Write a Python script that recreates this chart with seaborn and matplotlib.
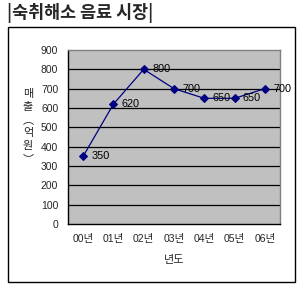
import matplotlib
matplotlib.use("Agg")
import matplotlib.pyplot as plt
import seaborn as sns
import pandas as pd
from matplotlib.patches import Rectangle

years = ["00년", "01년", "02년", "03년", "04년", "05년", "06년"]
sales = [350, 620, 800, 700, 650, 650, 700]
yticks = [0, 100, 200, 300, 400, 500, 600, 700, 800, 900]
ylabel_chars = ["매", "출", "︵", "억", "원", "︶"]

sns.set_style("white")
FAM = ["Liberation Sans", "Noto Sans CJK KR", "DejaVu Sans"]
plt.rcParams["font.family"] = FAM

fig = plt.figure(figsize=(3.03, 2.89), dpi=100)
fig.patch.set_facecolor("white")

# outer chart frame
fig.patches.append(Rectangle((8/303, 1-282/289), 287/303, 255/289, transform=fig.transFigure,
                             fill=False, edgecolor="black", linewidth=1.0, zorder=0))

ax = fig.add_axes([68/303, 1-224/289, 212/303, 174/289])
ax.set_facecolor("#c0c0c0")

df = pd.DataFrame({"year": years, "sales": sales})
df["pos"] = range(len(years))
sns.lineplot(data=df, x="pos", y="sales", ax=ax, color="#000080", marker="D",
             markersize=4, markeredgecolor="#000080", linewidth=0.9, zorder=3)

for i, v in enumerate(sales):
    ax.annotate(str(v), (i, v), xytext=(6, 0), textcoords="offset points",
                va="center", ha="left", fontsize=7.8, color="black", zorder=4)

ax.set_xlim(-0.5, len(years) - 0.5)
ax.set_ylim(0, 900)
ax.set_yticks(yticks)
ax.set_yticklabels([str(t) for t in yticks], fontsize=7.5)
for t in yticks[1:-1]:
    ax.axhline(t, color="black", linewidth=0.9, zorder=1)
ax.set_xticks(range(len(years)))
ax.set_xticklabels(years, fontsize=7.5)
ax.tick_params(axis="x", length=0, pad=7)
ax.tick_params(axis="y", length=4, width=0.8, color="black", direction="out", pad=3)
ax.set_xticks([i + 0.5 for i in range(len(years) - 1)], minor=True)
ax.tick_params(axis="x", which="minor", length=3, direction="in", color="#888888")

for s in ax.spines.values():
    s.set_color("#808080")
    s.set_linewidth(1.0)
ax.spines["left"].set_color("black")
ax.spines["bottom"].set_color("black")

ax.set_xlabel("년도", fontsize=8, labelpad=8)
ax.set_ylabel("")

# vertical stacked y label, one upright character per line
y0 = 94
for k, ch in enumerate(ylabel_chars):
    fig.text(28/303, 1-(y0 + 13*k)/289, ch, fontsize=8, ha="center", va="center",
             family=["Noto Sans CJK KR", "DejaVu Sans"])

fig.text(7/303, 1-13/289, "|숙취해소 음료 시장|", fontsize=12.5, fontweight="bold",
         ha="left", va="center", family=["Noto Sans CJK KR", "DejaVu Sans"])

fig.savefig("out.png", dpi=100)
